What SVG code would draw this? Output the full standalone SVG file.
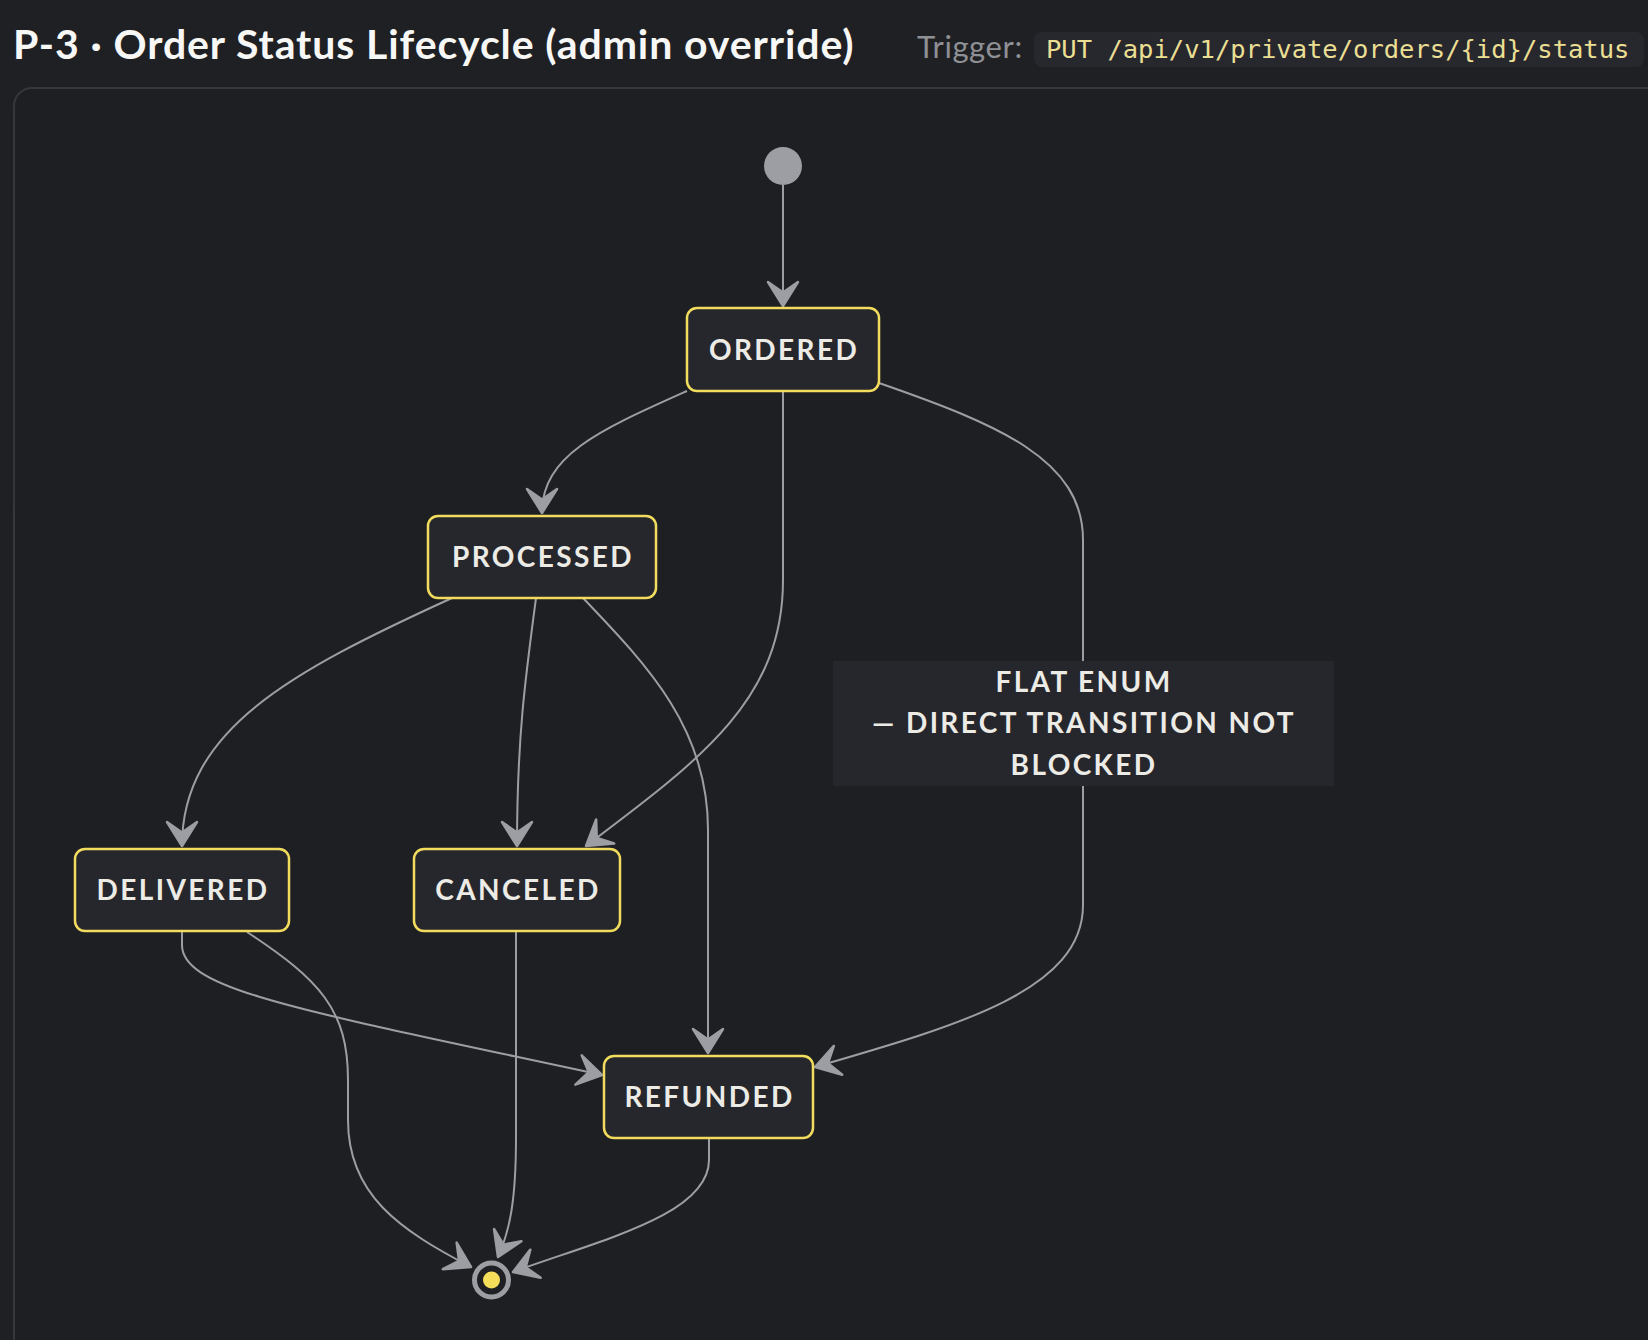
<svg xmlns="http://www.w3.org/2000/svg" width="1648" height="1340" viewBox="0 0 1648 1340">
  <defs>
    <marker id="arrow" markerUnits="userSpaceOnUse" viewBox="-28 -19 31 38" markerWidth="31" markerHeight="38" refX="0" refY="0" orient="auto">
      <path d="M0,0 L-24,-15 L-13.5,0 L-24,15 Z" fill="#9d9ea3" stroke="#9d9ea3" stroke-width="2.5" stroke-linejoin="round"/>
    </marker>
    <style>
      .bg { fill: #1f2024; }
      .panel { fill: #1e1f23; stroke: #36373c; stroke-width: 2; }
      .title { font-family: "Lato", "Noto Sans", "Liberation Sans", sans-serif; font-weight: 700; font-size: 41px; letter-spacing: 0.9px; fill: #f7f7f5; }
      .trig { font-family: "Lato", "Noto Sans", "Liberation Sans", sans-serif; font-weight: 400; font-size: 31px; letter-spacing: 0.6px; fill: #8f9095; }
      .codebox { fill: #27282d; }
      .code { font-family: "DejaVu Sans Mono", "Liberation Mono", monospace; font-size: 25.5px; fill: #ebdf93; }
      .node rect { fill: #26272c; stroke: #f2dc5d; stroke-width: 2.5; }
      .ntext { font-family: "Lato", "Noto Sans", "Liberation Sans", sans-serif; font-weight: 700; font-size: 28px; letter-spacing: 2.4px; fill: #ecebe6; text-anchor: middle; }
      .edge { fill: none; stroke: #9d9ea3; stroke-width: 2; marker-end: url(#arrow); }
      .lblbox { fill: #26272c; }
    </style>
  </defs>

  <rect class="bg" x="0" y="0" width="1648" height="1340"/>
  <rect class="panel" x="14" y="88" width="1720" height="1400" rx="18" ry="18"/>

  <g id="header">
    <text class="title" x="13" y="59">P-3 · Order Status Lifecycle (admin override)</text>
    <text class="trig" x="917" y="58">Trigger:</text>
    <rect class="codebox" x="1034" y="32" width="610" height="35" rx="8" ry="8"/>
    <text class="code" x="1046" y="58">PUT /api/v1/private/orders/{id}/status</text>
  </g>

  <g id="connectors">
    <path class="edge" d="M783,185 L783,306"/>
    <path class="edge" d="M687,391 C600,430 542,455 542,513"/>
    <path class="edge" d="M783,391 L783,580 C783,700 700,760 586,846"/>
    <path class="edge" d="M879,383 C1000,425 1083,460 1083,540 L1083,905 C1083,990 960,1025 815,1067"/>
    <path class="edge" d="M452,598 C290,672 182,730 182,846"/>
    <path class="edge" d="M536,598 C525,680 517,740 517,846"/>
    <path class="edge" d="M583,598 C650,668 708,730 708,830 L708,1053"/>
    <path class="edge" d="M182,931 L182,945 C182,990 300,1010 602,1075"/>
    <path class="edge" d="M247,932 C320,980 348,1010 348,1080 L348,1120 C348,1195 400,1230 471,1267"/>
    <path class="edge" d="M516,932 L516,1137 C516,1200 510,1230 498,1257"/>
    <path class="edge" d="M709,1138 L709,1160 C709,1215 600,1240 513,1272"/>
  </g>

  <g id="edge-label">
    <rect class="lblbox" x="833" y="661" width="501" height="125"/>
    <text class="ntext" x="1084" y="692">FLAT ENUM</text>
    <text class="ntext" x="1084" y="733">— DIRECT TRANSITION NOT</text>
    <text class="ntext" x="1084" y="775">BLOCKED</text>
  </g>

  <g id="start">
    <circle cx="783" cy="166" r="19" fill="#9d9ea3"/>
  </g>

  <g id="ORDERED" class="node">
    <rect x="687" y="308" width="192" height="83" rx="10" ry="10"/>
    <text class="ntext" x="784" y="360">ORDERED</text>
  </g>

  <g id="PROCESSED" class="node">
    <rect x="428" y="516" width="228" height="82" rx="10" ry="10"/>
    <text class="ntext" x="543" y="567">PROCESSED</text>
  </g>

  <g id="DELIVERED" class="node">
    <rect x="75" y="849" width="214" height="82" rx="10" ry="10"/>
    <text class="ntext" x="183" y="900">DELIVERED</text>
  </g>

  <g id="CANCELED" class="node">
    <rect x="414" y="849" width="206" height="82" rx="10" ry="10"/>
    <text class="ntext" x="518" y="900">CANCELED</text>
  </g>

  <g id="REFUNDED" class="node">
    <rect x="604" y="1056" width="209" height="82" rx="10" ry="10"/>
    <text class="ntext" x="709.5" y="1107">REFUNDED</text>
  </g>

  <g id="end">
    <circle cx="491.5" cy="1280" r="17" fill="#1f2024" stroke="#9d9ea3" stroke-width="5"/>
    <circle cx="491.5" cy="1280" r="8.5" fill="#f5df5a"/>
  </g>
</svg>
